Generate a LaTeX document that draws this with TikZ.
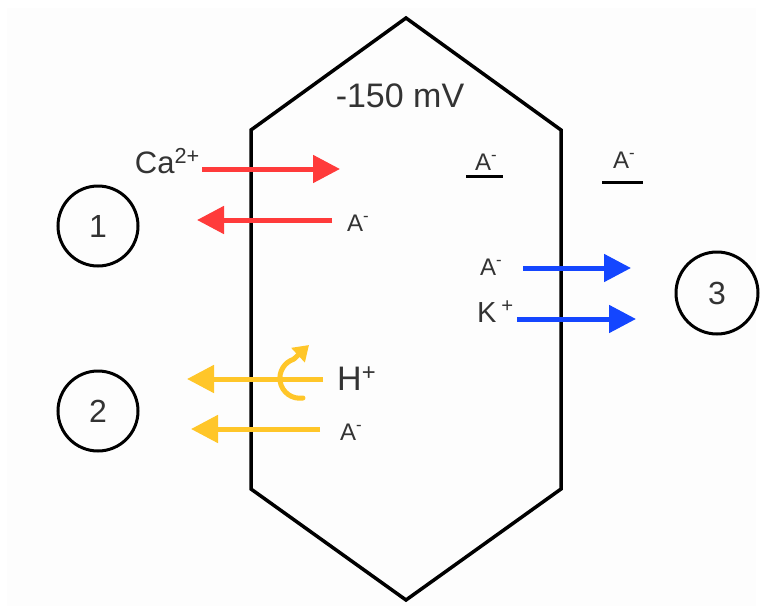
\documentclass[tikz,border=0pt]{standalone}
\usepackage{fontspec}
\setmainfont{Liberation Sans}
\usepackage{xcolor}
\usepackage{tikz}
\usetikzlibrary{arrows.meta}
\definecolor{ionred}{RGB}{255,59,59}
\definecolor{ionyellow}{RGB}{255,198,41}
\definecolor{ionblue}{RGB}{20,70,255}
\definecolor{txtgray}{RGB}{51,51,51}
\definecolor{bggray}{RGB}{253,253,253}

\begin{document}
\begin{tikzpicture}[x=1pt,y=-1pt,
ion/.style={line width=5pt,-{Triangle[length=27pt,width=27pt]}},
num/.style={circle,draw,line width=3pt,minimum size=80pt,inner sep=0pt,text=txtgray,font=\fontsize{32}{32}\selectfont},
lbl/.style={text=txtgray,inner sep=0pt,anchor=base west,font=\fontsize{24}{24}\selectfont},
big/.style={text=txtgray,inner sep=0pt,font=\fontsize{34}{34}\selectfont}]
\useasboundingbox (0,0) rectangle (763,613);
\fill[bggray] (7,8) rectangle (756,606);
\draw[line width=3.5pt,line join=miter] (406,18)--(561,130)--(561,489)--(406,600)--(251,489)--(251,130)--cycle;
\node[big,anchor=base] (mv) at (400,107) {-150 mV};
\node[num] (n1) at (98,226) {1};
\node[num] (n2) at (98,411) {2};
\node[num,minimum size=82pt] (n3) at (717,293) {3};
\node[big,anchor=base east,font=\fontsize{31}{31}\selectfont] (ca) at (200,173) {Ca\textsuperscript{2+}};
\node[lbl] (aout1) at (347,231) {A\textsuperscript{-}};
\node[big,anchor=base west] (h) at (337,390) {H\textsuperscript{+}};
\node[lbl] (aout2) at (340,440) {A\textsuperscript{-}};
\node[lbl] (aout3) at (480,275) {A\textsuperscript{-}};
\node[big,anchor=base west,font=\fontsize{29}{29}\selectfont] (k) at (477,322) {K\,\textsuperscript{+}};
\node[lbl] (ain) at (475,170) {A\textsuperscript{-}};
\node[lbl] (aext) at (613,168) {A\textsuperscript{-}};
\draw[line width=3pt] (466,176)--(503,176);
\draw[line width=3pt] (602,182)--(643,182);
\coordinate (r1a) at (202,169); \coordinate (r1b) at (340,169);
\coordinate (r2a) at (332,220); \coordinate (r2b) at (197,220);
\coordinate (y1a) at (323,379); \coordinate (y1b) at (187,379);
\coordinate (y2a) at (320,429); \coordinate (y2b) at (191,429);
\coordinate (b1a) at (523,268); \coordinate (b1b) at (631,268);
\coordinate (b2a) at (517,319); \coordinate (b2b) at (636,319);
\draw[ion,ionred] (r1a)--(r1b);
\draw[ion,ionred] (r2a)--(r2b);
\draw[ion,ionyellow] (y1a)--(y1b);
\draw[ion,ionyellow] (y2a)--(y2b);
\draw[ionyellow,line width=5pt,line cap=round] (303,398) arc[start angle=81,end angle=252,radius=20] coordinate (hc);
\draw[ionyellow,line width=5pt,-{Triangle[length=15pt,width=19pt]}] (hc)--(309,345);
\draw[ion,ionblue] (b1a)--(b1b);
\draw[ion,ionblue] (b2a)--(b2b);
\end{tikzpicture}
\end{document}
